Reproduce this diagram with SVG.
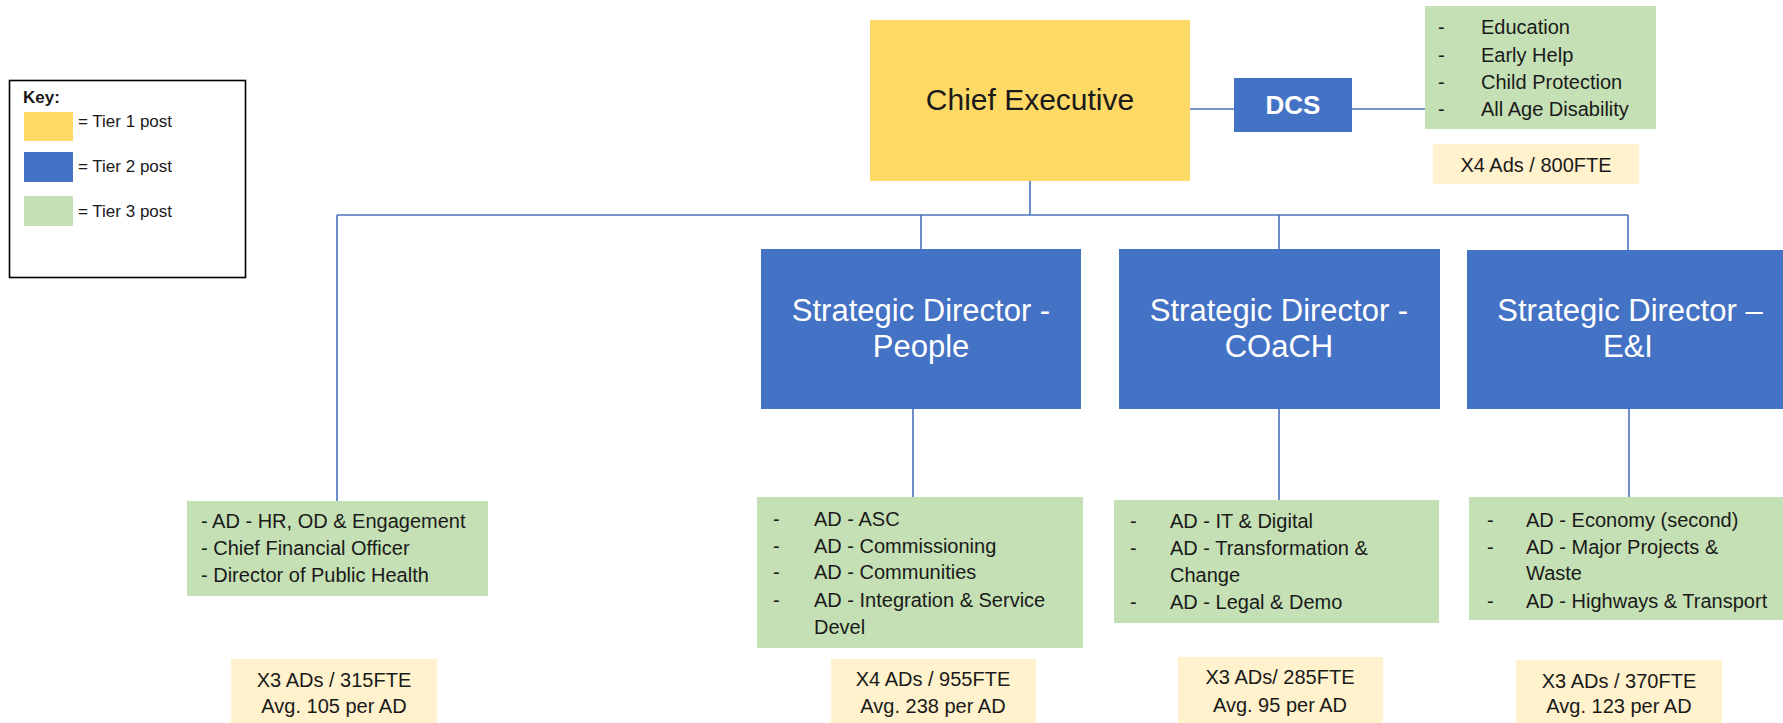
<svg xmlns="http://www.w3.org/2000/svg" width="1783" height="723" viewBox="0 0 1783 723">
  <style>
    text { font-family: "Liberation Sans", Arial, sans-serif; fill: #1a1a1a; }
    .t1 { fill: #FFD966; }
    .t2 { fill: #4472C4; }
    .t3 { fill: #C5E0B4; }
    .stat { fill: #FFF2CC; }
    .body { font-size: 20px; }
    .mid { text-anchor: middle; }
    .white { fill: #ffffff; }
    .sd { font-size: 31px; }
    .key { font-size: 17px; }
    .conn { stroke: #4a72bd; stroke-width: 1.6; fill: none; }
  </style>

  <!-- legend -->
  <g id="key">
    <rect x="9.5" y="80.5" width="236" height="197" fill="#ffffff" stroke="#000000" stroke-width="1.6"/>
    <text x="23" y="103" class="key" font-weight="bold">Key:</text>
    <rect class="t1" x="24" y="112" width="49" height="29"/>
    <text x="78" y="127" class="key">= Tier 1 post</text>
    <rect class="t2" x="24" y="152" width="49" height="30"/>
    <text x="78" y="172" class="key">= Tier 2 post</text>
    <rect class="t3" x="24" y="196" width="49" height="30"/>
    <text x="78" y="217" class="key">= Tier 3 post</text>
  </g>

  <!-- connectors -->
  <g id="connectors" class="conn">
    <line x1="1190" y1="109" x2="1234" y2="109"/>
    <line x1="1352" y1="109" x2="1425" y2="109"/>
    <line x1="1030" y1="181" x2="1030" y2="215"/>
    <line x1="337" y1="215" x2="1628" y2="215"/>
    <line x1="337" y1="215" x2="337" y2="501"/>
    <line x1="921" y1="215" x2="921" y2="249"/>
    <line x1="1279" y1="215" x2="1279" y2="249"/>
    <line x1="1628" y1="215" x2="1628" y2="250"/>
    <line x1="913" y1="409" x2="913" y2="497"/>
    <line x1="1279" y1="409" x2="1279" y2="500"/>
    <line x1="1629" y1="409" x2="1629" y2="497"/>
  </g>

  <!-- tier 1 -->
  <g id="chief-executive">
    <rect class="t1" x="870" y="20" width="320" height="161"/>
    <text x="1030" y="110" class="mid" font-size="30">Chief Executive</text>
  </g>

  <!-- DCS branch -->
  <g id="dcs">
    <rect class="t2" x="1234" y="78" width="118" height="54"/>
    <text x="1293" y="114" class="mid white" font-size="26" font-weight="bold">DCS</text>
  </g>
  <g id="dcs-services">
    <rect class="t3" x="1425" y="6" width="231" height="123"/>
    <g class="body">
      <text x="1438" y="34">-</text><text x="1481" y="34">Education</text>
      <text x="1438" y="62">-</text><text x="1481" y="62">Early Help</text>
      <text x="1438" y="89">-</text><text x="1481" y="89">Child Protection</text>
      <text x="1438" y="116">-</text><text x="1481" y="116">All Age Disability</text>
    </g>
  </g>
  <g id="dcs-stats">
    <rect class="stat" x="1433" y="144" width="206" height="40"/>
    <text x="1536" y="172" class="body mid">X4 Ads / 800FTE</text>
  </g>

  <!-- tier 2 -->
  <g id="sd-people">
    <rect class="t2" x="761" y="249" width="320" height="160"/>
    <text x="921" y="321" class="mid white sd">Strategic Director -</text>
    <text x="921" y="357" class="mid white sd">People</text>
  </g>
  <g id="sd-coach">
    <rect class="t2" x="1119" y="249" width="321" height="160"/>
    <text x="1279" y="321" class="mid white sd">Strategic Director -</text>
    <text x="1279" y="357" class="mid white sd">COaCH</text>
  </g>
  <g id="sd-ei">
    <rect class="t2" x="1467" y="250" width="326" height="159"/>
    <text x="1630" y="321" class="mid white sd">Strategic Director –</text>
    <text x="1628" y="357" class="mid white sd">E&amp;I</text>
  </g>

  <!-- tier 3 -->
  <g id="ce-direct">
    <rect class="t3" x="187" y="501" width="301" height="95"/>
    <g class="body">
      <text x="201" y="528">- AD - HR, OD &amp; Engagement</text>
      <text x="201" y="555">- Chief Financial Officer</text>
      <text x="201" y="582">- Director of Public Health</text>
    </g>
  </g>
  <g id="people-ads">
    <rect class="t3" x="757" y="497" width="326" height="151"/>
    <g class="body">
      <text x="773" y="526">-</text><text x="814" y="526">AD - ASC</text>
      <text x="773" y="553">-</text><text x="814" y="553">AD - Commissioning</text>
      <text x="773" y="579">-</text><text x="814" y="579">AD - Communities</text>
      <text x="773" y="607">-</text><text x="814" y="607">AD - Integration &amp; Service</text>
      <text x="814" y="634">Devel</text>
    </g>
  </g>
  <g id="coach-ads">
    <rect class="t3" x="1114" y="500" width="325" height="123"/>
    <g class="body">
      <text x="1130" y="528">-</text><text x="1170" y="528">AD - IT &amp; Digital</text>
      <text x="1130" y="555">-</text><text x="1170" y="555">AD - Transformation &amp;</text>
      <text x="1170" y="582">Change</text>
      <text x="1130" y="609">-</text><text x="1170" y="609">AD - Legal &amp; Demo</text>
    </g>
  </g>
  <g id="ei-ads">
    <rect class="t3" x="1469" y="497" width="320" height="123"/>
    <g class="body">
      <text x="1487" y="527">-</text><text x="1526" y="527">AD - Economy (second)</text>
      <text x="1487" y="554">-</text><text x="1526" y="554">AD - Major Projects &amp;</text>
      <text x="1526" y="580">Waste</text>
      <text x="1487" y="608">-</text><text x="1526" y="608">AD - Highways &amp; Transport</text>
    </g>
  </g>

  <!-- headcount summaries -->
  <g id="ce-direct-stats">
    <rect class="stat" x="231" y="659" width="206" height="64"/>
    <text x="334" y="687" class="body mid">X3 ADs / 315FTE</text>
    <text x="334" y="713" class="body mid">Avg. 105 per AD</text>
  </g>
  <g id="people-stats">
    <rect class="stat" x="831" y="659" width="205" height="64"/>
    <text x="933" y="686" class="body mid">X4 ADs / 955FTE</text>
    <text x="933" y="713" class="body mid">Avg. 238 per AD</text>
  </g>
  <g id="coach-stats">
    <rect class="stat" x="1178" y="657" width="205" height="66"/>
    <text x="1280" y="684" class="body mid">X3 ADs/ 285FTE</text>
    <text x="1280" y="712" class="body mid">Avg. 95 per AD</text>
  </g>
  <g id="ei-stats">
    <rect class="stat" x="1516" y="660" width="206" height="63"/>
    <text x="1619" y="688" class="body mid">X3 ADs / 370FTE</text>
    <text x="1619" y="713" class="body mid">Avg. 123 per AD</text>
  </g>
</svg>
